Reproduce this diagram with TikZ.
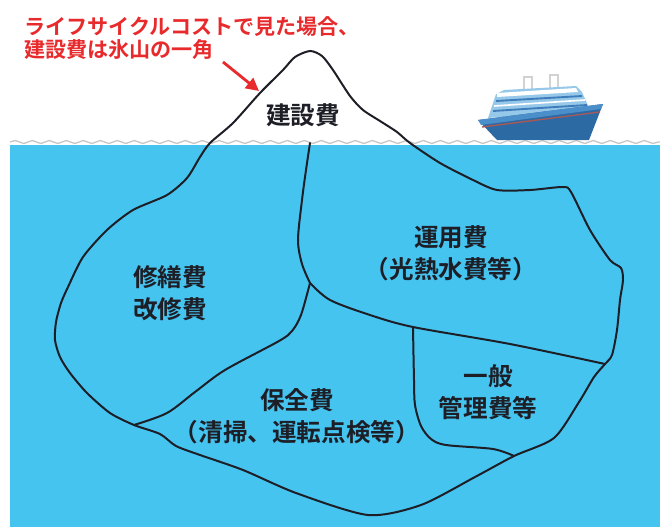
\documentclass[tikz,border=0pt]{standalone}
\usepackage{fontspec}
\usepackage{tikz}
\usetikzlibrary{arrows.meta,decorations.pathmorphing}
\newfontfamily\jpfont{Noto Sans CJK JP Bold}[RawFeature=+halt]
\newfontfamily\jpwide{Noto Sans CJK JP Bold}
\definecolor{sea}{RGB}{69,196,240}
\definecolor{ink}{RGB}{30,30,38}
\definecolor{alert}{RGB}{232,42,44}
\definecolor{hull}{RGB}{44,106,164}
\definecolor{hulltop}{RGB}{74,142,202}
\definecolor{deck}{RGB}{150,200,234}
\definecolor{window}{RGB}{62,124,186}

\begin{document}
\begin{tikzpicture}[x=0.03cm,y=-0.03cm,
    ice/.style={line width=1.7pt,draw=ink,line join=round,line cap=round},
    cost/.style={font=\jpfont\fontsize{21}{27}\selectfont,text=ink,align=center},
    note/.style={font=\jpfont\fontsize{18}{19.6}\selectfont,text=alert,align=left,anchor=west}]
        \useasboundingbox (0,0) rectangle (660,527);
        % sea and the wavy surface
        \fill[sea] (10,145) rectangle (660,527);
        \draw[gray!45,line width=1.1pt,decorate,decoration={snake,segment length=0.51cm,amplitude=0.045cm}] (10,142) -- (660,142);

        % ship
        \draw[gray!35,line width=1.4pt] (524,92) -- (524,77) -- (532,77) -- (532,92);
        \draw[gray!35,line width=1.4pt] (550,90) -- (550,75) -- (558,75) -- (558,90);
        \fill[deck] (488,118) -- (496,94) -- (504,90) -- (576,86) -- (582,92) -- (590,110) -- cycle;
        \fill[white] (497,93) -- (576,88) -- (578,92) -- (497,97) -- cycle;
        \draw[window,line width=1.6pt] (496,101) -- (582,96);
        \draw[white,line width=1.4pt] (494,106) -- (585,100);
        \draw[window,line width=1.6pt] (493,111) -- (587,105);
        \fill[hull] (478,120) -- (603,104) -- (589,140) -- (497,140) -- cycle;
        \fill[hulltop] (478,120) -- (603,104) -- (601,109) -- (481,125) -- cycle;
        \draw[red!30!gray,line width=1.2pt] (482,127) -- (600,112);

        % iceberg outline
        \draw[ice] plot[smooth cycle,tension=0.45] coordinates {
            (210,143) (233,123) (260,93) (283,70) (295,57) (310,51) (322,56)
            (333,70) (350,96) (363,110) (380,121) (397,132) (410,143)
            (440,163) (473,180) (497,190) (530,190) (563,187) (571,192)
            (590,230) (610,260) (621,268) (623,280) (620,300) (617,330)
            (612,355) (605,364) (594,377) (579,402) (554,438) (514,456)
            (475,477) (421,505) (368,515) (296,493) (243,470) (200,455)
            (176,446) (160,434) (134,425) (110,413) (87,393) (70,373)
            (60,357) (55,340) (56,322) (61,303) (68,287) (83,257)
            (107,230) (133,210) (167,195) (187,178) (200,157)};
        % dividing lines
        \draw[ice] plot[smooth,tension=0.5] coordinates {
            (310,143) (306,170) (302,200) (298,240) (302,264) (310,283)};
        \draw[ice] plot[smooth,tension=0.5] coordinates {
            (310,283) (330,300) (370,315) (413,327) (510,344) (605,364)};
        \draw[ice] plot[smooth,tension=0.5] coordinates {
            (310,283) (301,315) (292,331) (279,341) (225,370) (195,392) (167,413) (134,425)};
        \draw[ice] plot[smooth,tension=0.5] coordinates {
            (413,327) (414,380) (415,405) (421,426) (431,439) (446,445) (493,449) (514,456)};

        % labels
        \node[note] (title) at (20,38.5) {ライフサイクルコストで見た場合、\\建設費は氷山の一角};
        \coordinate (tail) at (223,62);
        \coordinate (tip) at (259,91);
        \draw[alert,line width=2.4pt,-{Triangle[length=11pt,width=11pt]}] (tail) -- (tip);
        \node[cost] (build) at (303,115) {建設費};
        \node[cost] (ops) at (451,253) {運用費\\（光熱水費等）};
        \node[cost] (repair) at (170,293) {修繕費\\改修費};
        \node[cost] (maint) at (297,416) {保全費\\（清掃{\jpwide 、}運転点検等）};
        \node[cost] (admin) at (488,392) {一般\\管理費等};
    \end{tikzpicture}
\end{document}
